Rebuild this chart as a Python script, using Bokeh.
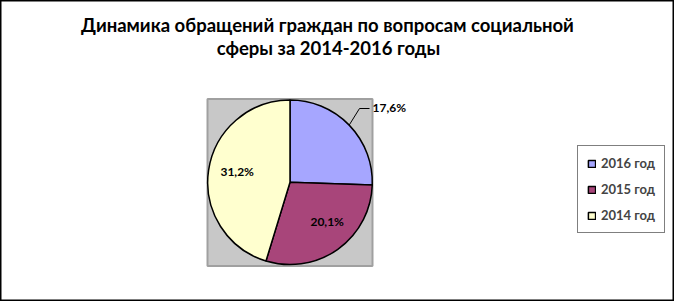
import numpy as np
from bokeh.plotting import figure
from bokeh.models import Range1d, ColumnDataSource, Legend, LegendItem
from bokeh.core.properties import value
from bokeh.embed import file_html
from bokeh.resources import INLINE

# ---- data ----
years = ["2016 год", "2015 год", "2014 год"]
shares = [17.6, 20.1, 31.2]
share_labels = ["17,6%", "20,1%", "31,2%"]
colors = ["#A6A6FF", "#A8457A", "#FFFFCF"]
title_lines = ["Динамика обращений граждан по вопросам социальной",
               "сферы за 2014-2016 годы"]

# ---- layout ----
W, H = 674, 301
FONT = value("Lato")
cx, cy, r = 289.5, H - 181.8, 82.3

p = figure(width=W, height=H, x_range=Range1d(0, W), y_range=Range1d(0, H),
           output_backend="svg", toolbar_location=None, min_border=0)
p.axis.visible = False
p.grid.visible = False
p.outline_line_color = "black"
p.outline_line_width = 2
p.background_fill_color = "white"
p.border_fill_color = "white"

# plot area (grey square behind pie)
p.rect(x=[(207 + 372) / 2], y=[H - 182], width=165, height=167,
       fill_color="#C8C8C8", line_color="#A0A0A0", line_width=2)

vals = np.array(shares, dtype=float)
ang = 2 * np.pi * vals / vals.sum()
ends = np.cumsum(ang)
starts = ends - ang
src = ColumnDataSource(dict(year=years, start=np.pi / 2 - starts,
                            end=np.pi / 2 - ends, color=colors))
w = p.wedge(x=cx, y=cy, radius=r, start_angle="start", end_angle="end",
            direction="clock", fill_color="color", line_color="black",
            line_width=1.5, source=src)

mid = np.pi / 2 - (starts + ang / 2)

# outside label for the first slice with leader line
ax, ay = cx + r * np.cos(mid[0]), cy + r * np.sin(mid[0])
p.line(x=[ax, 359, 369], y=[ay, H - 108, H - 108], line_color="black", line_width=1)
p.text(x=[372], y=[H - 107], text=[share_labels[0]], text_font=FONT,
       text_font_style="bold", text_font_size="12px", text_align="left",
       text_baseline="middle", text_color="black")

# inside labels
nudge = np.radians([0, 8, -3.5])
lr = 54
lx = cx + lr * np.cos(mid + nudge)
ly = cy + lr * np.sin(mid + nudge)
p.text(x=list(lx[1:]), y=list(ly[1:]), text=share_labels[1:], text_font=FONT,
       text_font_style="bold", text_font_size="12px", text_align="center",
       text_baseline="middle", text_color="black")

# title
p.text(x=[327, 328], y=[H - 24, H - 47.5], text=title_lines, text_font=FONT,
       text_font_style="bold", text_font_size="18.5px", text_align="center",
       text_baseline="middle", text_color="black")

legend = Legend(items=[LegendItem(label=years[i], renderers=[w], index=i) for i in range(3)],
                location=(577, H - 233), orientation="vertical",
                border_line_color="black", border_line_width=1,
                background_fill_color="white", background_fill_alpha=1,
                label_text_font="Lato", label_text_font_style="bold",
                label_text_font_size="13px", glyph_width=9, glyph_height=9,
                label_height=14, padding=9, spacing=10, label_standoff=5, margin=0)
p.add_layout(legend)

open("out.html", "w").write(file_html(p, INLINE))
